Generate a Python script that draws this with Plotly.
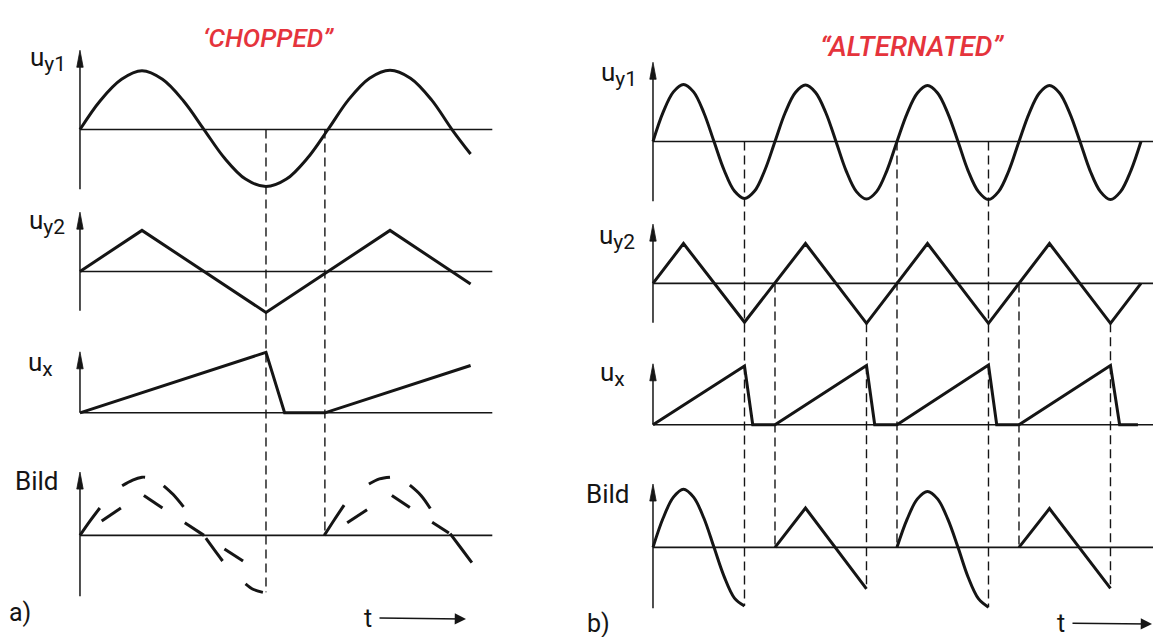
import plotly.graph_objects as go

# Time in quarter periods of u_y1, values in multiples of the u_y1 amplitude.

# ---------------- a) "CHOPPED" ----------------
CH_UY1_T = [0, 0.33, 0.67, 1, 1.33, 1.67, 2, 2.33, 2.67, 3, 3.33, 3.67, 4,
            4.33, 4.67, 5, 5.33, 5.67, 6, 6.3]
CH_UY1_V = [0, 0.51, 0.88, 1.03, 0.88, 0.5, 0, -0.5, -0.87, -1.0, -0.87, -0.5, 0,
            0.52, 0.9, 1.04, 0.9, 0.52, 0, -0.43]
CH_UY2_T = [0, 1, 3, 5, 6.3]
CH_UY2_V = [0, 0.72, -0.72, 0.72, -0.22]
CH_UX_T = [0, 3, 3.3, 3.95, 6.3]
CH_UX_V = [0, 1.06, 0, 0, 0.83]
# screen image: pieces of u_y1 and of u_y2 shown alternately
CH_BILD1_T = [0, 0.16, 0.32, None, 0.68, 0.85, 1.0, 1.05, None, 1.35, 1.5, 1.67, None,
              2.03, 2.17, 2.3, None, 2.67, 2.8, 2.95, None, 3.94, 4.1, 4.26, None,
              4.66, 4.83, 5.0, None, 5.32, 5.5, 5.65, None, 5.97, 6.15, 6.32]
CH_BILD1_V = [0, 0.25, 0.48, None, 0.87, 0.97, 1.02, 1.02, None, 0.87, 0.72, 0.5, None,
              -0.05, -0.26, -0.45, None, -0.85, -0.95, -1.0, None, 0, 0.27, 0.53, None,
              0.9, 0.99, 1.02, None, 0.88, 0.7, 0.47, None, 0.03, -0.23, -0.48]
CH_BILD2_T = [0.35, 0.66, None, 1.03, 1.33, None, 1.69, 2.0, None, 2.33, 2.63, None,
              4.31, 4.63, None, 5.03, 5.32, None, 5.68, 5.95]
CH_BILD2_V = [0.25, 0.48, None, 0.7, 0.48, None, 0.22, 0, None, -0.24, -0.45, None,
              0.22, 0.45, None, 0.7, 0.49, None, 0.23, 0.04]
CH_MARK_T = [3.0, 3.95]
CH_MARK_FROM = [("uy1", 0), ("uy1", 0)]
CH_MARK_TO = [("bild", -1.0), ("bild", 0)]

# ---------------- b) "ALTERNATED" ----------------
AL_UY1_T = [0, 0.33, 0.67, 1, 1.33, 1.67, 2, 2.33, 2.67, 3, 3.33, 3.67,
            4, 4.33, 4.67, 5, 5.33, 5.67, 6, 6.33, 6.67, 7, 7.33, 7.67,
            8, 8.33, 8.67, 9, 9.33, 9.67, 10, 10.33, 10.67, 11, 11.33, 11.67,
            12, 12.33, 12.67, 13, 13.33, 13.67, 14, 14.33, 14.67, 15, 15.33, 15.67, 16]
AL_UY1_V = [0, 0.51, 0.87, 1.0, 0.87, 0.5, 0, -0.5, -0.87, -1.0, -0.87, -0.5,
            0, 0.5, 0.86, 0.99, 0.86, 0.5, 0, -0.51, -0.88, -1.01, -0.88, -0.51,
            0, 0.49, 0.85, 0.98, 0.85, 0.49, 0, -0.51, -0.88, -1.02, -0.88, -0.51,
            0, 0.49, 0.85, 0.98, 0.85, 0.49, 0, -0.51, -0.88, -1.02, -0.88, -0.51, 0]
AL_UY2_T = [0, 1, 3, 5, 7, 9, 11, 13, 15, 16]
AL_UY2_V = [0, 0.7, -0.68, 0.7, -0.7, 0.7, -0.7, 0.7, -0.7, 0]
AL_UX_T = [0, 3, 3.27, 4, 7, 7.27, 8, 11, 11.27, 12, 15, 15.3, 15.9]
AL_UX_V = [0, 1.03, 0, 0, 1.04, 0, 0, 1.05, 0, 0, 1.04, 0, 0]
AL_BILD1_T = [0, 0.33, 0.67, 1, 1.33, 1.67, 2, 2.33, 2.67, 3, None,
              8, 8.33, 8.67, 9, 9.33, 9.67, 10, 10.33, 10.67, 11]
AL_BILD1_V = [0, 0.51, 0.88, 1.02, 0.88, 0.51, 0, -0.51, -0.89, -1.03, None,
              0, 0.49, 0.85, 0.98, 0.85, 0.49, 0, -0.52, -0.9, -1.05]
AL_BILD2_T = [4, 5, 7, None, 12, 13, 15]
AL_BILD2_V = [0, 0.69, -0.73, None, 0, 0.68, -0.72]
AL_MARK_T = [3, 4, 7, 8, 11, 12, 15]
AL_MARK_FROM = [("uy1", 0), ("uy2", 0), ("uy2", -0.7), ("uy1", 0), ("uy1", 0), ("uy2", 0), ("uy2", -0.7)]
AL_MARK_TO = [("bild", -1.03), ("bild", 0), ("bild", -0.73), ("bild", 0), ("bild", -1.05), ("bild", 0), ("bild", -0.72)]

SUB = "<span style='font-size:21px'>{}</span>"
ROW_LABELS = {"uy1": "u<sub>" + SUB.format("y1") + "</sub>",
              "uy2": "u<sub>" + SUB.format("y2") + "</sub>",
              "ux": "u<sub>" + SUB.format("x") + "</sub>",
              "bild": "Bild"}
TITLES = ["‘CHOPPED”", "“ALTERNATED”"]
PANEL_TAGS = ["a)", "b)"]

# ---------------- layout constants ----------------
W, H = 1153, 637
INK = "#151515"
RED = "#e5343c"
FONT = "Roboto"
LEVEL = {"uy1": 0.0, "uy2": -2.49, "ux": -4.97, "bild": -7.12}
AXIS_SPAN = {"uy1": (1.39, -1.05), "uy2": (1.04, -0.69), "ux": (1.07, 0.0), "bild": (1.11, -1.07)}
X_RANGES = {"x": (-1.290, 8.008), "x2": (-2.508, 16.394)}
Y_RANGES = {"y": (-8.903, 2.272), "y2": (-8.693, 2.482)}
HEAD_LEN_PX, HEAD_HALF_PX = 17, 3.2

fig = go.Figure()


def add_line(xs, vs, row, xa, ya, width=3.0, spline=False, dash=None, color=INK):
    ys = [None if v is None else LEVEL[row] + v for v in vs]
    line = dict(color=color, width=width)
    if spline:
        line.update(shape="spline", smoothing=1.0)
    if dash:
        line["dash"] = dash
    fig.add_trace(go.Scatter(x=xs, y=ys, mode="lines", line=line, xaxis=xa, yaxis=ya,
                             hoverinfo="skip", showlegend=False, connectgaps=False))


panels = [
    dict(xa="x", ya="y", tend=6.65,
         uy1=(CH_UY1_T, CH_UY1_V), uy2=(CH_UY2_T, CH_UY2_V), ux=(CH_UX_T, CH_UX_V),
         b1=(CH_BILD1_T, CH_BILD1_V), b2=(CH_BILD2_T, CH_BILD2_V),
         marks=(CH_MARK_T, CH_MARK_FROM, CH_MARK_TO)),
    dict(xa="x2", ya="y2", tend=16.45,
         uy1=(AL_UY1_T, AL_UY1_V), uy2=(AL_UY2_T, AL_UY2_V), ux=(AL_UX_T, AL_UX_V),
         b1=(AL_BILD1_T, AL_BILD1_V), b2=(AL_BILD2_T, AL_BILD2_V),
         marks=(AL_MARK_T, AL_MARK_FROM, AL_MARK_TO)),
]

for p in panels:
    xa, ya = p["xa"], p["ya"]
    x_per_px = (X_RANGES[xa][1] - X_RANGES[xa][0]) / (W / 2)
    y_per_px = (Y_RANGES[ya][1] - Y_RANGES[ya][0]) / H
    hw, hl = HEAD_HALF_PX * x_per_px, HEAD_LEN_PX * y_per_px
    # baselines
    for row in LEVEL:
        add_line([0, p["tend"]], [0, 0], row, xa, ya, width=1.6)
    # axis arrows: shaft + slim filled head
    for row, (top, bot) in AXIS_SPAN.items():
        tip = LEVEL[row] + top
        fig.add_trace(go.Scatter(x=[0, 0], y=[LEVEL[row] + bot, tip - hl * 0.8],
                                 mode="lines", xaxis=xa, yaxis=ya,
                                 line=dict(color=INK, width=1.5),
                                 hoverinfo="skip", showlegend=False))
        fig.add_trace(go.Scatter(x=[-hw, 0, hw, -hw], y=[tip - hl, tip, tip - hl, tip - hl],
                                 mode="lines", fill="toself", fillcolor=INK, xaxis=xa, yaxis=ya,
                                 line=dict(color=INK, width=0.8),
                                 hoverinfo="skip", showlegend=False))
    # dashed projection lines
    mt, mf, mto = p["marks"]
    xs, ys = [], []
    for t, (r0, v0), (r1, v1) in zip(mt, mf, mto):
        xs += [t, t, None]
        ys += [LEVEL[r0] + v0, LEVEL[r1] + v1, None]
    fig.add_trace(go.Scatter(x=xs, y=ys, mode="lines", xaxis=xa, yaxis=ya,
                             line=dict(color=INK, width=1.4, dash="9px,5px"),
                             hoverinfo="skip", showlegend=False))
    # waveforms
    add_line(*p["uy1"], "uy1", xa, ya, spline=True)
    add_line(*p["uy2"], "uy2", xa, ya)
    add_line(*p["ux"], "ux", xa, ya)
    add_line(*p["b1"], "bild", xa, ya, spline=True)
    add_line(*p["b2"], "bild", xa, ya)

annotations = []


def px_note(text, x, y, size, xanchor="left", yanchor="top", color=INK, **font_extra):
    annotations.append(dict(text=text, x=x / W, y=1 - y / H, xref="paper", yref="paper",
                            xanchor=xanchor, yanchor=yanchor, showarrow=False,
                            font=dict(family=FONT, size=size, color=color, **font_extra)))


# row labels
for positions in [[(28, 40), (27, 203), (26, 345), (13, 464)],
                  [(599, 55), (597, 218), (598, 355), (584, 477)]]:
    for row, (x, y) in zip(LEVEL, positions):
        px_note(ROW_LABELS[row], x, y, 26)

px_note(PANEL_TAGS[0], 7, 596, 25)
px_note(PANEL_TAGS[1], 585, 607, 25)
px_note(TITLES[0], 268, 38, 26, xanchor="center", yanchor="middle", color=RED,
        style="italic", weight=500)
px_note(TITLES[1], 912, 46, 28, xanchor="center", yanchor="middle", color=RED,
        style="italic", weight=500)

# "t ->" time direction arrows (text with attached arrow)
for (tx, x1, y) in [(368, 466, 619), (1061, 1152, 624)]:
    annotations.append(dict(text="t", x=x1 / W, y=1 - y / H, ax=-(x1 - tx), ay=-1,
                            xref="paper", yref="paper", axref="pixel", ayref="pixel",
                            showarrow=True, arrowhead=2, arrowsize=1.5, arrowwidth=1.5,
                            arrowcolor=INK, standoff=0, startstandoff=6,
                            font=dict(family=FONT, size=25, color=INK)))

ax_common = dict(visible=False, showgrid=False, zeroline=False, fixedrange=True)
fig.update_layout(
    width=W, height=H, margin=dict(l=0, r=0, t=0, b=0),
    paper_bgcolor="white", plot_bgcolor="white", showlegend=False,
    xaxis=dict(domain=[0, 0.5], range=list(X_RANGES["x"]), anchor="y", **ax_common),
    yaxis=dict(domain=[0, 1], range=list(Y_RANGES["y"]), anchor="x", **ax_common),
    xaxis2=dict(domain=[0.5, 1], range=list(X_RANGES["x2"]), anchor="y2", **ax_common),
    yaxis2=dict(domain=[0, 1], range=list(Y_RANGES["y2"]), anchor="x2", **ax_common),
    annotations=annotations,
)

fig.write_html("out.html", config={"displayModeBar": False},
               post_script="document.body.style.margin='0';document.body.style.overflow='hidden';")
